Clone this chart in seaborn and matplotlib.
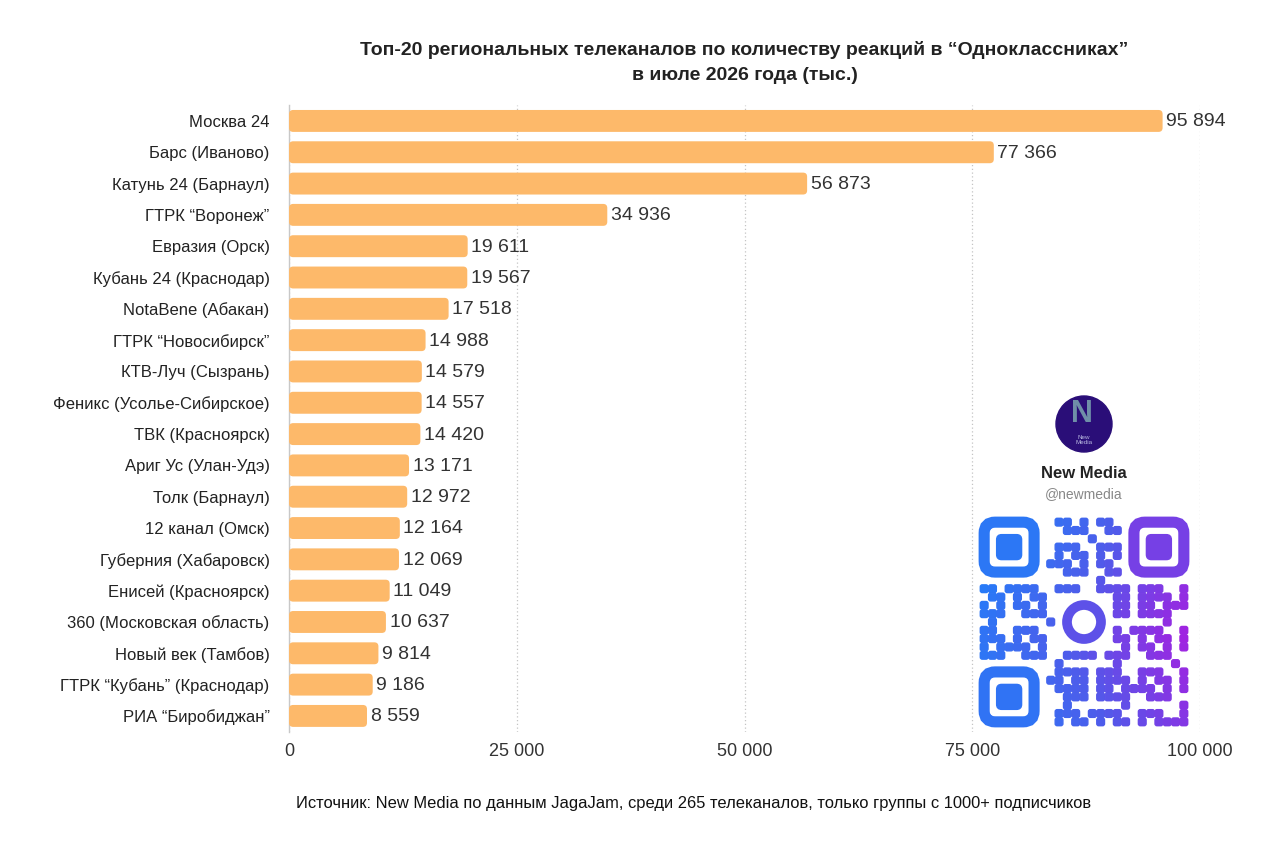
import matplotlib
matplotlib.use("Agg")
import matplotlib.pyplot as plt
import matplotlib.colors as mcolors
import pandas as pd
import seaborn as sns
from matplotlib.patches import FancyBboxPatch, Circle

# data
channels = [
    "Москва 24", "Барс (Иваново)", "Катунь 24 (Барнаул)", "ГТРК “Воронеж”",
    "Евразия (Орск)", "Кубань 24 (Краснодар)", "NotaBene (Абакан)",
    "ГТРК “Новосибирск”", "КТВ-Луч (Сызрань)", "Феникс (Усолье-Сибирское)",
    "ТВК (Красноярск)", "Ариг Ус (Улан-Удэ)", "Толк (Барнаул)", "12 канал (Омск)",
    "Губерния (Хабаровск)", "Енисей (Красноярск)", "360 (Московская область)",
    "Новый век (Тамбов)", "ГТРК “Кубань” (Краснодар)", "РИА “Биробиджан”",
]
reactions = [
    95894, 77366, 56873, 34936, 19611, 19567, 17518, 14988, 14579, 14557,
    14420, 13171, 12972, 12164, 12069, 11049, 10637, 9814, 9186, 8559,
]
xticks = [0, 25000, 50000, 75000, 100000]

title = ("Топ-20 региональных телеканалов по количеству реакций в “Одноклассниках”\n"
         "в июле 2026 года (тыс.)")
source = ("Источник: New Media по данным JagaJam, среди 265 телеканалов, "
          "только группы с 1000+ подписчиков")

bar_color = "#FDB96A"


def fmt(v):
    return f"{v:,}".replace(",", " ")


sns.set_theme(style="white")
plt.rcParams["font.family"] = ["Liberation Sans", "DejaVu Sans"]

fig = plt.figure(figsize=(12.8, 8.49), dpi=100)
ax = fig.add_axes([0.2258, 0.1383, 0.7117, 0.7377])

df = pd.DataFrame({"channel": channels, "reactions": reactions})
sns.barplot(data=df, x="reactions", y="channel", color=bar_color,
            saturation=1, width=0.7, ax=ax, zorder=3)

ax.set_xlim(0, 100000)
ax.set_ylim(len(channels) - 0.5, -0.5)

# rounded bar ends
aspect = (20 / 626.3) / (100000 / 911)
for p in list(ax.patches):
    x0, y0, w, h = p.get_x(), p.get_y(), p.get_width(), p.get_height()
    p.remove()
    ax.add_patch(FancyBboxPatch((x0, y0), w, h,
                                boxstyle="round,pad=0,rounding_size=450",
                                mutation_aspect=aspect, facecolor=bar_color,
                                edgecolor="none", zorder=3))

for i, v in enumerate(reactions):
    ax.text(v + 400, i + 0.03, fmt(v), va="center", ha="left", fontsize=14,
            color="#333333", zorder=4)

ax.set_xticks(xticks, [fmt(t) for t in xticks])
ax.tick_params(axis="x", length=0, pad=8, labelsize=13, labelcolor="#333333")
ax.tick_params(axis="y", length=0, pad=14, labelsize=12, labelcolor="#222222")
ax.set_xlabel("")
ax.set_ylabel("")

ax.xaxis.grid(True, linestyle=(0, (1, 2)), color="#c4c4c4", linewidth=0.9)
ax.set_axisbelow(True)
for s in ["top", "right", "bottom"]:
    ax.spines[s].set_visible(False)
ax.spines["left"].set_color("#c8c8c8")
ax.spines["left"].set_linewidth(1)

fig.text(0.5817, 0.926, title, ha="center", va="center", fontsize=14,
         fontweight="bold", color="#222222", linespacing=1.6)
fig.text(0.542, 0.054, source, ha="center", va="center", fontsize=11.9,
         color="#111111")

# branding block: logo, name, QR-style code
deco = fig.add_axes([0, 0, 1, 1], zorder=5)
deco.set_xlim(0, 1280)
deco.set_ylim(849, 0)
deco.axis("off")
deco.patch.set_alpha(0)

deco.add_patch(Circle((1084, 424), 28, color="#2A0E78"))
deco.text(1082, 414, "N", ha="center", va="center", fontsize=22,
          fontweight="bold", color="#6F8FA8")
deco.text(1084, 440, "New\nMedia", ha="center", va="center", fontsize=4.5,
          color="#B8B8E0", linespacing=0.9)
deco.text(1084, 473, "New Media", ha="center", va="center", fontsize=12,
          fontweight="bold", color="#222222")
deco.text(1084, 494, "@newmedia", ha="center", va="center", fontsize=10,
          color="#888888")

cmap = mcolors.LinearSegmentedColormap.from_list("qr", ["#1E82FA", "#4F5BEA", "#A51FE0"])
qx, qy, qs, n = 980, 518, 208, 25
cell = qs / n


def qr_color(cx, cy):
    t = 0.8 * (cx - qx) / qs + 0.2 * (1 - abs((cy - qy) / qs - 0.55) * 2)
    return cmap(min(max(t, 0), 1))


def in_reserved(i, j):
    corners = [(0, 0), (0, n - 8), (n - 8, 0)]
    for ci, cj in corners:
        if ci <= i < ci + 8 and cj <= j < cj + 8:
            return True
    return 9 <= i <= 15 and 9 <= j <= 15


for i in range(n):
    for j in range(n):
        if in_reserved(i, j):
            continue
        if (i * 7 + j * 3 + i * j) % 5 < 3 or (i + 2 * j) % 7 == 0:
            cx, cy = qx + j * cell, qy + i * cell
            deco.add_patch(FancyBboxPatch((cx + 0.3, cy + 0.3), cell - 0.6, cell - 0.6,
                                          boxstyle="round,pad=0,rounding_size=2",
                                          color=qr_color(cx, cy)))

for fx, fy in [(qx, qy), (qx + qs - 7 * cell, qy), (qx, qy + qs - 7 * cell)]:
    c = qr_color(fx + 3.5 * cell, fy + 3.5 * cell)
    deco.add_patch(FancyBboxPatch((fx + cell * 0.5, fy + cell * 0.5), 6 * cell, 6 * cell,
                                  boxstyle="round,pad=0,rounding_size=11",
                                  facecolor="none", edgecolor=c, linewidth=8))
    deco.add_patch(FancyBboxPatch((fx + 2 * cell, fy + 2 * cell), 3 * cell, 3 * cell,
                                  boxstyle="round,pad=0,rounding_size=5", color=c))

deco.add_patch(Circle((qx + qs / 2, qy + qs / 2), 17, facecolor="none",
                      edgecolor=qr_color(qx + qs / 2, qy + qs / 2), linewidth=7))

fig.savefig("out.png", dpi=100, facecolor="white")
